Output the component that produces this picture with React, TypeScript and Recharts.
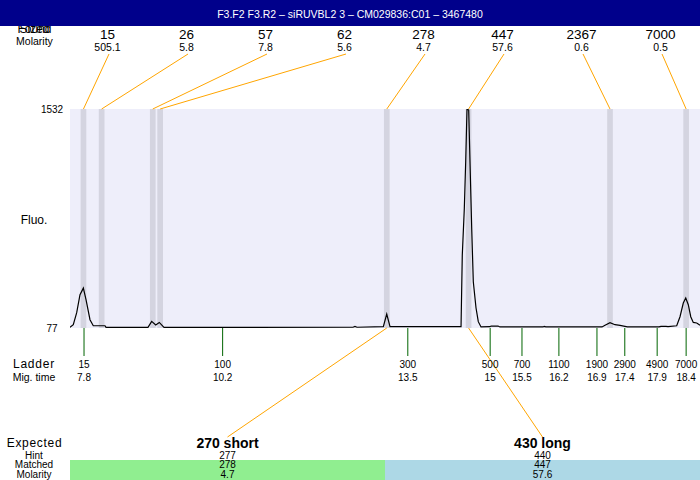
import React from "react";
import {
  CartesianGrid,
  ComposedChart,
  Line,
  ReferenceArea,
  ReferenceLine,
  XAxis,
  YAxis,
} from "recharts";

const title = "F3.F2  F3.R2 – siRUVBL2 3 – CM029836:C01 – 3467480";

// peaks found (size bp, molarity, migration time)
const peakSizes = [15, 26, 57, 62, 278, 447, 2367, 7000];
const peakMolarity = ["505.1", "5.8", "7.8", "5.6", "4.7", "57.6", "0.6", "0.5"];
const peakTimes = [7.79, 8.11, 9.01, 9.14, 13.13, 14.57, 17.06, 18.4];

// ladder
const ladderSizes = [15, 100, 300, 500, 700, 1100, 1900, 2900, 4900, 7000];
const ladderTimes = [7.8, 10.24, 13.5, 14.95, 15.51, 16.16, 16.83, 17.32, 17.89, 18.4];
const ladderTimeLabels = ["7.8", "10.2", "13.5", "15", "15.5", "16.2", "16.9", "17.4", "17.9", "18.4"];

// expected products
const expectedNames = ["270 short", "430 long"];
const expectedHint = [277, 440];
const expectedMatched = [278, 447];
const expectedMolarity = ["4.7", "57.6"];
const expectedPeak = [4, 5];

// electropherogram trace
const traceTime = [
  7.553, 7.611, 7.671, 7.729, 7.788, 7.835, 7.905, 7.963, 8.169, 8.187,
  8.926, 8.991, 9.062, 9.125, 9.208, 12.535, 12.57, 12.605, 13.069, 13.129,
  13.187, 14.437, 14.459, 14.495, 14.519, 14.542, 14.572, 14.595, 14.625, 14.653,
  14.701, 14.741, 14.789, 14.947, 14.965, 15.088, 15.123, 15.88, 15.9, 15.93,
  16.919, 16.972, 17.06, 17.148, 17.236, 17.365, 17.923, 17.958, 18.046, 18.081,
  18.234, 18.292, 18.35, 18.393, 18.438, 18.481, 18.526, 18.586, 18.644,
];
const traceFluo = [
  81, 99, 179, 298, 342, 265, 132, 92, 92, 81,
  81, 121, 97, 114, 81, 82, 87, 82, 86, 170,
  86, 86, 561, 873, 1180, 1532, 1525, 1180, 738, 384,
  210, 119, 84, 86, 90, 90, 84, 84, 87, 84,
  84, 95, 112, 99, 94, 84, 84, 88, 88, 86,
  92, 152, 243, 276, 232, 152, 114, 110, 96,
];

const fluoTicks = [77, 1532];

const W = 700;
const H = 480;
const PLOT_LEFT = 70;
const PLOT_TOP = 109;
const AXIS_H = 152;
const FONT = "'Liberation Sans', Arial, sans-serif";
const ORANGE = "#FFA500";

const data = traceTime.map((t, i) => ({ t, fluo: traceFluo[i] }));

const headerX = (i: number) => 107.5 + 79 * i;
const expectedX = (i: number) => PLOT_LEFT + (i + 0.5) * ((W - PLOT_LEFT) / 2);

const topLink = (i: number) => (p: any) => (
  <line
    x1={p.x1}
    y1={Math.min(p.y1, p.y2)}
    x2={headerX(i) + 1.5}
    y2={54}
    stroke={ORANGE}
    strokeWidth={1}
  />
);

const bottomLink = (i: number) => (p: any) => (
  <line
    x1={p.x1}
    y1={Math.max(p.y1, p.y2)}
    x2={expectedX(i)}
    y2={437}
    stroke={ORANGE}
    strokeWidth={1}
  />
);

const LadderTick = (props: any) => {
  const { x, y, payload } = props;
  const i = ladderTimes.indexOf(payload.value);
  return (
    <g fontFamily={FONT} fontSize={10} fill="#000">
      <text x={x} y={y + 9.5} textAnchor="middle">{ladderSizes[i]}</text>
      <text x={x} y={y + 23} textAnchor="middle">{ladderTimeLabels[i]}</text>
    </g>
  );
};

const FluoTick = (props: any) => {
  const { y, payload } = props;
  return (
    <text x={52} y={y + 4} textAnchor="middle" fontFamily={FONT} fontSize={10} fill="#000">
      {payload.value}
    </text>
  );
};

const Overlay = () => (
  <svg
    width={W}
    height={H}
    style={{ position: "absolute", left: 0, top: 0, pointerEvents: "none" }}
    fontFamily={FONT}
  >
    <text x={34.5} y={33} textAnchor="middle" fontSize={12}>Found</text>
    <text x={34.5} y={33} textAnchor="middle" fontSize={12}>Sized</text>
    <text x={34.5} y={44.5} textAnchor="middle" fontSize={10.5}>Molarity</text>
    <rect x={0} y={0} width={W} height={26} fill="#00008B" />
    <text x={W / 2} y={18} textAnchor="middle" fontSize={10.5} fill="#fff">{title}</text>

    {peakSizes.map((s, i) => (
      <g key={s} textAnchor="middle">
        <text x={headerX(i)} y={39} fontSize={13.5}>{s}</text>
        <text x={headerX(i)} y={51} fontSize={10.5}>{peakMolarity[i]}</text>
      </g>
    ))}

    <text x={34} y={224} textAnchor="middle" fontSize={12}>Fluo.</text>
    <text x={34} y={367.5} textAnchor="middle" fontSize={12} letterSpacing={0.8}>Ladder</text>
    <text x={34} y={381} textAnchor="middle" fontSize={10.5}>Mig. time</text>

    <text x={34.5} y={447} textAnchor="middle" fontSize={12} letterSpacing={0.7}>Expected</text>
    <text x={34} y={458.5} textAnchor="middle" fontSize={10}>Hint</text>
    <text x={34} y={468} textAnchor="middle" fontSize={10}>Matched</text>
    <text x={34} y={477.5} textAnchor="middle" fontSize={10}>Molarity</text>
    <rect x={PLOT_LEFT} y={460} width={(W - PLOT_LEFT) / 2} height={20} fill="#90EE90" />
    <rect x={PLOT_LEFT + (W - PLOT_LEFT) / 2} y={460} width={(W - PLOT_LEFT) / 2} height={20} fill="#ADD8E6" />
    {expectedNames.map((n, i) => (
      <g key={n} textAnchor="middle">
        <text x={expectedX(i)} y={447.5} fontSize={14} fontWeight="bold">{n}</text>
        <text x={expectedX(i)} y={458.5} fontSize={10}>{expectedHint[i]}</text>
        <text x={expectedX(i)} y={468} fontSize={10}>{expectedMatched[i]}</text>
        <text x={expectedX(i)} y={477.5} fontSize={10}>{expectedMolarity[i]}</text>
      </g>
    ))}
  </svg>
);

export default function App() {
  return (
    <div style={{ position: "absolute", left: 0, top: 0, width: W, height: H, background: "#fff" }}>
      <ComposedChart
        width={W}
        height={H}
        data={data}
        margin={{ top: PLOT_TOP, right: 0, bottom: 0, left: 0 }}
      >
        <CartesianGrid horizontal={false} vertical={false} fill="#EEEEFA" />
        <XAxis
          dataKey="t"
          type="number"
          domain={[7.553, 18.644]}
          allowDataOverflow
          ticks={ladderTimes}
          interval={0}
          tickSize={28}
          axisLine={false}
          tickLine={{ stroke: "#006400" }}
          tick={<LadderTick />}
          height={AXIS_H}
        />
        <YAxis
          type="number"
          domain={[77, 1532]}
          allowDataOverflow
          ticks={fluoTicks}
          interval={0}
          width={PLOT_LEFT}
          axisLine={false}
          tickLine={false}
          tick={<FluoTick />}
        />
        {peakTimes.map((t) => (
          <ReferenceArea
            key={"band" + t}
            x1={t - 0.05}
            x2={t + 0.05}
            fill="#D4D4E0"
            fillOpacity={1}
            stroke="none"
          />
        ))}
        {peakTimes.map((t, i) => (
          <ReferenceLine key={"top" + t} x={t} shape={topLink(i)} />
        ))}
        {expectedPeak.map((p, i) => (
          <ReferenceLine key={"bot" + p} x={peakTimes[p]} shape={bottomLink(i)} />
        ))}
        <Line
          dataKey="fluo"
          type="linear"
          dot={false}
          stroke="#000"
          strokeWidth={1.2}
          isAnimationActive={false}
        />
      </ComposedChart>
      <Overlay />
    </div>
  );
}
